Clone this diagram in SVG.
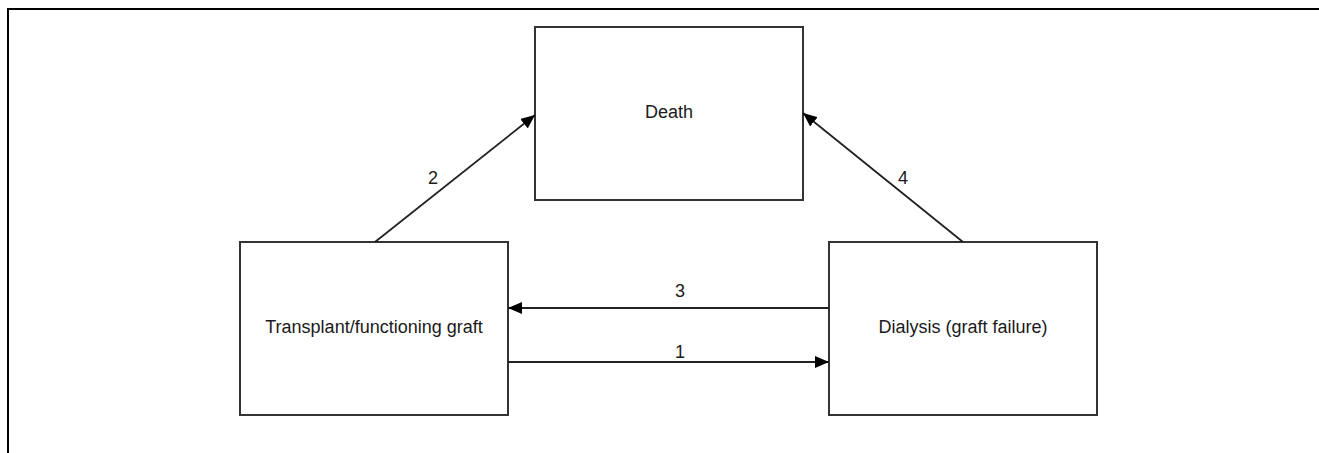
<svg xmlns="http://www.w3.org/2000/svg" width="1319" height="453" viewBox="0 0 1319 453">
  <style>
    .box { fill: #ffffff; stroke: #333333; stroke-width: 2; }
    .lbl { font-family: "Liberation Sans", Arial, sans-serif; font-size: 18px; fill: #1a1a1a; text-anchor: middle; }
    .edge { stroke: #222222; stroke-width: 1.8; fill: none; marker-end: url(#ah); }
    .frame { stroke: #000000; stroke-width: 2; fill: none; }
  </style>
  <defs>
    <marker id="ah" viewBox="0 0 14 12" refX="14" refY="6" markerWidth="14" markerHeight="12" markerUnits="userSpaceOnUse" orient="auto">
      <path d="M0,0 L14,6 L0,12 Z" fill="#000000"/>
    </marker>
  </defs>
  <rect width="1319" height="453" fill="#ffffff"/>
  <path class="frame" d="M8,453 L8,9 L1319,9"/>

  <g id="node-death">
    <rect class="box" x="535" y="27" width="268" height="173"/>
    <text class="lbl" x="669" y="118">Death</text>
  </g>
  <g id="node-transplant">
    <rect class="box" x="240" y="242" width="268" height="173"/>
    <text class="lbl" x="374" y="333">Transplant/functioning graft</text>
  </g>
  <g id="node-dialysis">
    <rect class="box" x="829" y="242" width="268" height="173"/>
    <text class="lbl" x="963" y="333">Dialysis (graft failure)</text>
  </g>

  <g id="connectors">
    <line class="edge" x1="375" y1="242" x2="535" y2="115"/>
    <line class="edge" x1="963" y1="242" x2="803" y2="113"/>
    <line class="edge" x1="829" y1="308" x2="508" y2="308"/>
    <line class="edge" x1="508" y1="362" x2="829" y2="362"/>
    <text class="lbl" x="433" y="184">2</text>
    <text class="lbl" x="903" y="184">4</text>
    <text class="lbl" x="680" y="297">3</text>
    <text class="lbl" x="680" y="358">1</text>
  </g>
</svg>
